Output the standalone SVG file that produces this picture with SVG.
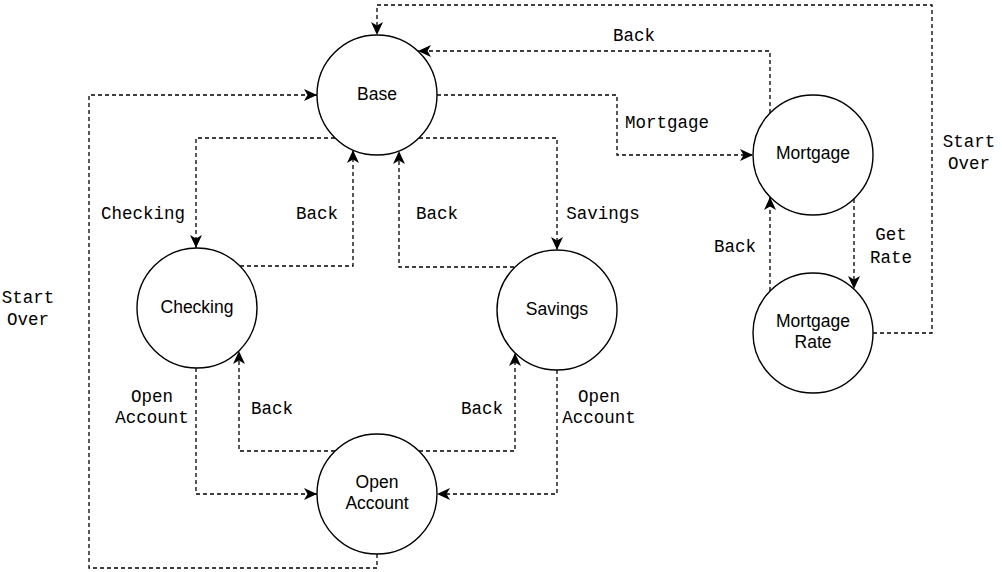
<svg xmlns="http://www.w3.org/2000/svg" width="1002" height="572" viewBox="0 0 1002 572">
<style>
.node{fill:#fff;stroke:#000;stroke-width:1.4}
.nt{font-family:"Liberation Sans",Arial,sans-serif;font-size:17.5px;fill:#000;text-anchor:middle}
.edge{fill:none;stroke:#000;stroke-width:1.3;stroke-dasharray:4 3;marker-end:url(#arr)}
.lbl{font-family:"Liberation Mono","DejaVu Sans Mono",monospace;font-size:17.5px;fill:#000;text-anchor:middle}
</style>
<defs>
<marker id="arr" markerUnits="userSpaceOnUse" viewBox="0 0 13 12" refX="13" refY="6" markerWidth="13" markerHeight="12" orient="auto">
<path d="M0,0 L13,6 L0,12 L3.5,6 z" fill="#000"/>
</marker>
</defs>
<rect width="1002" height="572" fill="#fff"/>
<g id="connectors">
<path class="edge" d="M377,554 V568 H89 V95 H317"/>
<path class="edge" d="M873,333 H932 V5 H377 V35"/>
<path class="edge" d="M437,95 H617 V155 H753"/>
<path class="edge" d="M770,113 V51 H418"/>
<path class="edge" d="M335,138 H196 V248"/>
<path class="edge" d="M240,266 H353 V150"/>
<path class="edge" d="M514,267 H399 V151"/>
<path class="edge" d="M419,138 H557 V250"/>
<path class="edge" d="M196,368 V494 H317"/>
<path class="edge" d="M335,451 H239 V351"/>
<path class="edge" d="M419,451 H515 V353"/>
<path class="edge" d="M557,370 V494 H437"/>
<path class="edge" d="M854,199 V289"/>
<path class="edge" d="M770,291 V197"/>
</g>
<g id="edge-labels">
<text class="lbl" x="634" y="41">Back</text>
<text class="lbl" x="667" y="128">Mortgage</text>
<text class="lbl" x="969" y="147">Start</text>
<text class="lbl" x="969" y="169">Over</text>
<text class="lbl" x="143" y="219">Checking</text>
<text class="lbl" x="317" y="219">Back</text>
<text class="lbl" x="437" y="219">Back</text>
<text class="lbl" x="603" y="219">Savings</text>
<text class="lbl" x="28" y="303">Start</text>
<text class="lbl" x="28" y="325">Over</text>
<text class="lbl" x="152" y="402">Open</text>
<text class="lbl" x="152" y="423">Account</text>
<text class="lbl" x="272" y="414">Back</text>
<text class="lbl" x="482" y="414">Back</text>
<text class="lbl" x="599" y="402">Open</text>
<text class="lbl" x="599" y="423">Account</text>
<text class="lbl" x="891" y="240">Get</text>
<text class="lbl" x="891" y="263">Rate</text>
<text class="lbl" x="735" y="252">Back</text>
</g>
<g id="base"><circle class="node" cx="377" cy="95" r="60"/><text class="nt" x="377" y="100">Base</text></g>
<g id="checking"><circle class="node" cx="197" cy="308" r="60"/><text class="nt" x="197" y="313">Checking</text></g>
<g id="savings"><circle class="node" cx="557" cy="310" r="60"/><text class="nt" x="557" y="315">Savings</text></g>
<g id="open-account"><circle class="node" cx="377" cy="494" r="60"/><text class="nt" x="377" y="488">Open</text><text class="nt" x="377" y="509">Account</text></g>
<g id="mortgage"><circle class="node" cx="813" cy="155" r="60"/><text class="nt" x="813" y="159">Mortgage</text></g>
<g id="mortgage-rate"><circle class="node" cx="813" cy="333" r="60"/><text class="nt" x="813" y="327">Mortgage</text><text class="nt" x="813" y="348">Rate</text></g>
</svg>
